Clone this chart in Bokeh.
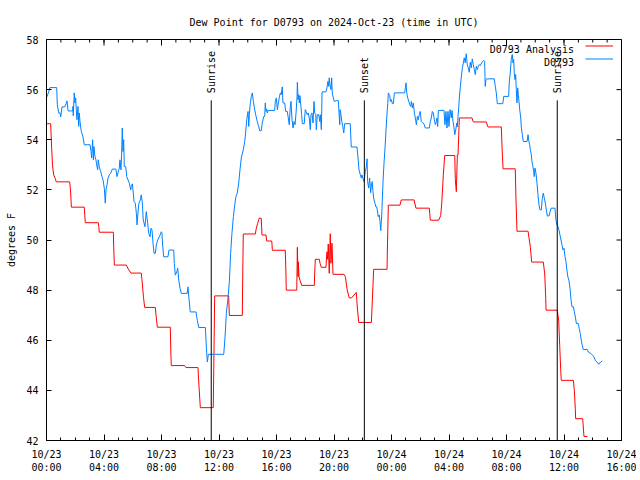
import math
from bokeh.plotting import figure
from bokeh.models import (Range1d, FixedTicker, LinearAxis, Legend, LegendItem,
                          Label, ColumnDataSource)
from bokeh.core.properties import value
from bokeh.embed import file_html
from bokeh.resources import INLINE

FONT = "DejaVu Sans Mono"
TITLE = "Dew Point for D0793 on 2024-Oct-23 (time in UTC)"

# x values: hours since 2024-10-23 00:00 UTC
analysis_hours = [
    0.00, 0.29, 0.36, 0.42, 0.50, 0.61, 0.68, 1.61, 1.67, 1.73,
    2.63, 2.66, 2.70, 3.60, 3.64, 3.67, 4.65, 4.68, 4.72, 5.55,
    5.69, 5.88, 6.59, 6.64, 6.75, 6.83, 7.57, 7.62, 7.71, 8.61,
    8.65, 8.68, 9.61, 9.70, 10.54, 10.57, 10.70, 11.60, 11.70, 12.67,
    12.72, 13.62, 13.65, 13.69, 14.53, 14.57, 14.69, 14.80, 14.94, 14.99,
    15.27, 15.32, 15.67, 15.69, 15.71, 16.61, 16.65, 16.68, 17.41, 17.45,
    17.50, 17.52, 17.57, 17.63, 17.75, 18.63, 18.66, 18.70, 18.98, 19.03,
    19.12, 19.44, 19.51, 19.56, 19.60, 19.67, 19.74, 19.79, 19.86, 19.93,
    20.70, 20.79, 20.92, 21.06, 21.22, 21.55, 21.62, 21.72, 22.60, 22.64,
    22.76, 23.69, 23.71, 23.78, 24.59, 24.68, 25.57, 25.70, 26.63, 26.70,
    27.28, 27.42, 27.49, 27.60, 27.70, 28.40, 28.44, 28.51, 28.58, 28.63,
    28.72, 29.60, 29.69, 30.59, 30.71, 31.64, 31.69, 31.76, 32.61, 32.66,
    32.73, 33.50, 33.66, 33.75, 34.56, 34.66, 34.73, 34.75, 35.53, 35.63,
    35.70, 35.77, 35.81, 36.65, 36.72, 36.79, 36.81, 37.30, 37.39, 37.62,
]
analysis_dewpoint = [
    54.64, 54.64, 53.64, 52.96, 52.60, 52.45, 52.32, 52.32, 52.00, 51.31,
    51.31, 50.99, 50.69, 50.69, 50.53, 50.31, 50.31, 49.64, 49.00, 49.00,
    48.84, 48.68, 48.68, 48.43, 47.70, 47.31, 47.31, 47.00, 46.52, 46.52,
    45.53, 44.99, 44.99, 44.91, 44.91, 44.53, 43.31, 43.31, 47.77, 47.77,
    46.99, 46.99, 48.60, 50.24, 50.24, 50.40, 50.67, 50.87, 50.87, 50.20,
    50.20, 49.96, 49.96, 49.80, 49.59, 49.59, 48.80, 48.00, 48.00, 49.71,
    48.53, 49.13, 48.53, 48.40, 48.19, 48.19, 48.72, 49.23, 49.23, 49.07,
    48.91, 48.91, 49.53, 49.23, 49.84, 48.67, 50.25, 49.07, 49.87, 48.63,
    48.63, 48.53, 48.00, 47.69, 47.69, 47.91, 47.33, 46.71, 46.71, 47.24,
    48.83, 48.83, 49.52, 51.39, 51.39, 51.60, 51.60, 51.27, 51.27, 50.79,
    50.79, 50.97, 51.40, 52.56, 53.37, 53.37, 52.40, 51.93, 53.40, 53.40,
    54.87, 54.87, 54.71, 54.71, 54.51, 54.51, 53.71, 52.84, 52.84, 51.60,
    50.35, 50.35, 49.71, 49.12, 49.12, 48.64, 47.67, 47.20, 47.20, 46.80,
    45.79, 44.83, 44.40, 44.40, 44.00, 43.23, 42.87, 42.87, 42.16, 42.16,
]

obs_hours = [
    0.01, 0.15, 0.24, 0.71, 0.75, 0.85, 0.94, 0.99, 1.08, 1.27,
    1.36, 1.43, 1.50, 1.82, 1.84, 1.86, 1.93, 1.98, 2.03, 2.07,
    2.12, 2.19, 2.24, 2.28, 2.33, 2.42, 2.54, 2.63, 3.03, 3.10,
    3.14, 3.21, 3.26, 3.30, 3.37, 3.44, 3.49, 3.56, 3.60, 3.67,
    3.77, 3.86, 3.93, 4.02, 4.09, 4.14, 4.21, 4.28, 4.37, 4.47,
    4.58, 4.83, 4.90, 4.97, 5.06, 5.11, 5.18, 5.23, 5.27, 5.32,
    5.37, 5.41, 5.51, 5.58, 5.67, 5.76, 5.86, 5.90, 5.97, 6.04,
    6.09, 6.18, 6.25, 6.30, 6.37, 6.43, 6.53, 6.59, 6.66, 6.73,
    6.85, 6.94, 7.04, 7.11, 7.20, 7.27, 7.34, 7.41, 7.48, 7.57,
    7.64, 7.74, 7.85, 7.99, 8.03, 8.08, 8.15, 8.45, 8.52, 8.85,
    8.89, 8.96, 9.06, 9.13, 9.20, 9.29, 9.38, 9.79, 9.84, 9.91,
    10.00, 10.40, 10.49, 10.59, 11.05, 11.12, 11.19, 11.26, 12.33, 12.42,
    12.51, 12.61, 12.72, 12.81, 12.90, 13.00, 13.11, 13.18, 13.27, 13.37,
    13.46, 13.55, 13.69, 13.79, 13.86, 13.93, 14.02, 14.07, 14.11, 14.18,
    14.25, 14.32, 14.39, 14.46, 14.53, 14.60, 14.66, 14.76, 14.83, 14.94,
    15.01, 15.11, 15.18, 15.22, 15.27, 15.32, 15.36, 15.43, 15.87, 15.92,
    15.99, 16.06, 16.13, 16.20, 16.27, 16.33, 16.40, 16.45, 16.57, 16.64,
    16.75, 16.82, 16.89, 16.96, 17.01, 17.08, 17.15, 17.22, 17.29, 17.36,
    17.43, 17.45, 17.50, 17.54, 17.59, 17.63, 17.70, 17.75, 17.80, 17.93,
    18.00, 18.07, 18.14, 18.21, 18.28, 18.35, 18.40, 18.47, 18.54, 18.61,
    18.66, 18.73, 18.77, 18.84, 18.94, 19.01, 19.05, 19.12, 19.17, 19.44,
    19.51, 19.58, 19.63, 19.67, 19.72, 19.79, 19.84, 19.88, 19.95, 20.02,
    20.16, 20.30, 20.35, 20.40, 20.42, 20.49, 20.54, 20.61, 20.68, 20.74,
    21.13, 21.20, 21.60, 21.67, 21.74, 21.83, 21.90, 21.95, 22.02, 22.09,
    22.18, 22.25, 22.30, 22.34, 22.41, 22.48, 22.55, 22.60, 22.66, 22.71,
    22.78, 22.85, 22.90, 22.97, 23.01, 23.08, 23.15, 23.20, 23.25, 23.32,
    23.36, 23.41, 23.48, 23.55, 23.62, 23.69, 23.74, 23.78, 23.88, 23.92,
    23.99, 24.06, 24.13, 24.20, 24.92, 24.96, 25.01, 25.06, 25.13, 25.20,
    25.27, 25.34, 25.38, 25.45, 25.52, 25.59, 25.66, 25.73, 25.80, 25.86,
    25.93, 26.00, 26.07, 26.14, 26.21, 26.28, 26.35, 26.63, 26.70, 26.77,
    26.84, 26.91, 26.98, 27.05, 27.12, 27.17, 27.21, 27.26, 27.65, 27.72,
    27.79, 27.86, 27.93, 28.00, 28.07, 28.16, 28.21, 28.28, 28.35, 28.40,
    28.47, 28.54, 28.58, 28.63, 28.68, 28.72, 28.79, 28.86, 28.93, 28.99,
    29.06, 29.13, 29.20, 29.27, 29.34, 29.41, 29.48, 29.55, 29.62, 29.69,
    29.76, 29.83, 29.90, 29.97, 30.04, 30.11, 30.18, 30.27, 30.41, 30.48,
    30.52, 30.57, 30.64, 31.15, 31.22, 31.29, 31.36, 31.74, 31.81, 32.15,
    32.19, 32.26, 32.33, 32.40, 32.45, 32.50, 32.54, 32.59, 32.64, 32.68,
    32.73, 32.78, 32.82, 32.87, 32.92, 32.99, 33.03, 33.10, 33.17, 33.43,
    33.50, 33.54, 33.61, 33.66, 33.73, 33.77, 33.84, 33.89, 33.93, 33.98,
    34.05, 34.12, 34.19, 34.26, 34.33, 34.42, 34.49, 34.56, 34.63, 34.70,
    34.77, 34.84, 34.96, 35.03, 35.10, 35.37, 35.44, 35.51, 35.58, 35.65,
    35.72, 35.79, 35.86, 35.93, 36.00, 36.07, 36.14, 36.20, 36.27, 36.34,
    36.42, 36.49, 36.56, 36.65, 36.72, 36.79, 36.86, 36.99, 37.06, 37.13,
    37.20, 37.27, 37.34, 37.62, 37.69, 37.86, 38.00, 38.09, 38.18, 38.30,
    38.41, 38.55, 38.66,
]
obs_dewpoint = [
    55.69, 55.90, 56.08, 56.08, 55.40, 55.07, 55.07, 54.91, 55.31, 55.31,
    55.44, 55.55, 55.15, 55.15, 55.33, 54.96, 55.87, 55.47, 55.67, 55.20,
    54.80, 55.33, 54.53, 55.07, 54.73, 54.33, 54.11, 53.80, 53.80, 53.53,
    53.27, 54.00, 53.20, 53.73, 53.33, 53.20, 53.00, 52.80, 53.20, 52.93,
    52.73, 52.53, 52.40, 52.07, 51.47, 52.00, 52.20, 52.47, 52.60, 52.67,
    52.83, 52.83, 52.53, 52.67, 52.87, 53.20, 52.80, 53.47, 54.47, 53.53,
    54.00, 52.93, 52.93, 52.53, 52.40, 52.27, 52.00, 52.13, 52.24, 51.87,
    51.53, 51.47, 51.07, 50.60, 51.13, 51.47, 51.60, 51.80, 51.53, 50.80,
    50.53, 51.13, 50.67, 50.27, 50.13, 50.47, 50.40, 49.87, 49.47, 49.47,
    49.80, 50.00, 50.13, 50.33, 50.27, 49.80, 49.33, 49.33, 49.60, 49.60,
    49.07, 48.60, 48.73, 48.87, 48.40, 48.07, 47.87, 47.87, 48.13, 47.67,
    47.13, 47.13, 46.80, 46.51, 46.51, 45.73, 45.13, 45.44, 45.44, 46.13,
    47.07, 47.60, 48.33, 49.47, 50.27, 50.93, 51.47, 51.73, 51.87, 52.27,
    52.80, 53.27, 53.60, 53.93, 54.33, 54.80, 55.13, 54.53, 55.00, 55.47,
    55.73, 55.87, 55.53, 55.27, 55.07, 54.87, 54.73, 54.53, 54.36, 54.36,
    54.67, 54.93, 54.93, 55.47, 55.13, 55.23, 55.07, 55.17, 55.17, 55.53,
    55.67, 55.20, 55.47, 55.71, 55.87, 55.80, 56.11, 55.47, 55.47, 55.13,
    55.13, 54.87, 54.60, 55.33, 55.53, 54.80, 54.47, 54.73, 54.60, 55.07,
    55.73, 56.29, 55.60, 55.80, 55.47, 55.76, 55.33, 55.00, 54.64, 54.64,
    55.20, 55.13, 55.00, 55.07, 54.87, 54.40, 55.00, 55.07, 54.67, 55.53,
    55.07, 55.00, 54.40, 55.00, 55.00, 54.73, 55.00, 54.40, 55.91, 55.91,
    56.07, 56.33, 56.13, 56.47, 56.20, 56.00, 56.47, 55.87, 55.67, 55.53,
    55.56, 55.56, 55.07, 54.60, 55.20, 55.00, 54.73, 54.53, 54.27, 54.64,
    54.64, 53.71, 53.71, 53.27, 52.80, 52.60, 52.47, 52.60, 52.44, 52.33,
    52.73, 52.93, 53.24, 52.33, 52.07, 52.47, 51.89, 52.20, 52.33, 51.93,
    51.60, 51.47, 51.33, 51.33, 51.20, 50.93, 51.00, 50.73, 50.37, 51.00,
    51.60, 52.33, 53.07, 53.67, 54.40, 55.07, 55.44, 55.87, 55.76, 55.53,
    55.60, 55.44, 55.44, 55.87, 55.87, 56.07, 56.27, 55.87, 55.67, 55.53,
    55.40, 55.33, 55.53, 55.27, 55.47, 55.07, 54.87, 54.60, 54.93, 54.80,
    55.00, 55.13, 54.73, 54.69, 54.67, 54.60, 54.47, 54.47, 54.73, 54.87,
    55.13, 55.07, 54.80, 54.60, 54.73, 54.87, 54.53, 55.17, 55.17, 54.60,
    55.13, 54.47, 55.13, 54.53, 55.20, 54.87, 55.17, 54.73, 54.47, 54.20,
    54.40, 54.67, 54.51, 54.93, 55.33, 55.67, 56.13, 56.53, 56.87, 57.03,
    57.27, 57.07, 57.43, 57.00, 56.87, 56.69, 57.09, 56.87, 57.23, 57.00,
    56.80, 56.60, 56.93, 56.80, 56.93, 57.00, 56.96, 57.07, 57.17, 57.13,
    56.13, 56.40, 56.43, 56.43, 56.13, 55.87, 55.44, 55.44, 55.73, 55.73,
    56.27, 56.67, 57.20, 57.40, 57.07, 57.20, 56.67, 56.40, 56.60, 56.00,
    55.47, 56.07, 55.80, 55.53, 55.20, 54.87, 54.51, 54.20, 53.93, 53.93,
    54.20, 54.00, 53.80, 53.60, 53.40, 53.13, 52.93, 52.73, 52.53, 52.87,
    52.67, 52.27, 51.80, 51.40, 51.20, 51.20, 51.67, 51.87, 51.67, 51.47,
    51.20, 50.96, 50.96, 51.13, 51.27, 51.27, 50.80, 50.60, 50.53, 50.40,
    50.20, 50.00, 49.80, 49.60, 49.67, 49.33, 49.13, 48.80, 48.53, 48.40,
    48.07, 47.60, 47.33, 47.33, 47.13, 46.93, 46.67, 46.67, 46.47, 46.27,
    46.00, 45.80, 45.63, 45.63, 45.53, 45.47, 45.40, 45.33, 45.20, 45.13,
    45.04, 45.13, 45.17,
]

series_names = ["D0793 Analysis", "D0793"]
series_colors = ["#ff0000", "#0080ff"]

event_names = ["Sunrise", "Sunset", "Sunrise"]
event_hours = [11.46, 22.11, 35.53]

x_tick_hours = [0, 4, 8, 12, 16, 20, 24, 28, 32, 36, 40]
x_tick_labels = ["10/23\n00:00", "10/23\n04:00", "10/23\n08:00", "10/23\n12:00",
                 "10/23\n16:00", "10/23\n20:00", "10/24\n00:00", "10/24\n04:00",
                 "10/24\n08:00", "10/24\n12:00", "10/24\n16:00"]
x_minor_hours = list(range(0, 41))
y_ticks = [42, 44, 46, 48, 50, 52, 54, 56, 58]

X0, X1, Y0, Y1 = 0, 40, 42, 58

p = figure(width=636, height=476, output_backend="svg", toolbar_location=None,
           x_range=Range1d(X0, X1), y_range=Range1d(Y0, Y1),
           x_axis_type=None, y_axis_type=None, title=TITLE,
           min_border_left=46, min_border_right=15, min_border_top=39,
           min_border_bottom=36)
p.background_fill_color = "white"
p.border_fill_color = "white"
p.outline_line_color = "black"
p.outline_line_width = 1
p.title.text_font = FONT
p.title.text_font_size = "10px"
p.title.text_font_style = "normal"
p.title.align = "center"
p.title.text_color = "black"
p.title.standoff = 23


def style_axis(ax):
    ax.axis_line_color = "black"
    ax.major_tick_line_color = "black"
    ax.minor_tick_line_color = "black"
    ax.major_tick_in = 5
    ax.major_tick_out = 0
    ax.minor_tick_in = 3
    ax.minor_tick_out = 0
    ax.major_label_text_font = FONT
    ax.major_label_text_color = "black"
    ax.major_label_text_font_size = "10px"
    ax.major_label_standoff = 8


x_overrides = {h: lab for h, lab in zip(x_tick_hours, x_tick_labels)}
xb = LinearAxis(ticker=FixedTicker(ticks=x_tick_hours, minor_ticks=x_minor_hours),
                major_label_overrides=x_overrides)
style_axis(xb)
xb.major_tick_in = 6
p.add_layout(xb, "below")

yl = LinearAxis(ticker=FixedTicker(ticks=y_ticks, minor_ticks=[]),
                axis_label="degrees F")
style_axis(yl)
yl.axis_label_text_font = FONT
yl.axis_label_text_font_size = "10px"
yl.axis_label_text_font_style = "normal"
yl.axis_label_text_color = "black"
yl.axis_label_standoff = 6
p.add_layout(yl, "left")

# mirrored inward ticks on the top and right borders (lengths in px -> data)
tick_major_y = 6 / 25.06
tick_minor_y = 3 / 25.06
tick_major_x = 5 / 14.375
p.segment(x0=x_tick_hours, y0=Y1, x1=x_tick_hours, y1=Y1 - tick_major_y,
          color="black", line_width=1)
p.segment(x0=x_minor_hours, y0=Y1, x1=x_minor_hours, y1=Y1 - tick_minor_y,
          color="black", line_width=1)
p.segment(x0=X1, y0=y_ticks, x1=X1 - tick_major_x, y1=y_ticks,
          color="black", line_width=1)

r_an = p.line(analysis_hours, analysis_dewpoint, color=series_colors[0], line_width=1)
r_obs = p.line(obs_hours, obs_dewpoint, color=series_colors[1], line_width=1)

ev = ColumnDataSource(dict(x=event_hours, name=event_names))
p.segment(x0="x", y0=Y0, x1="x", y1=55.57, source=ev, color="black", line_width=1)
p.text(x="x", y=55.86, text="name", source=ev, angle=math.pi / 2,
       text_font=value(FONT), text_font_size=value("10px"),
       text_align="left", text_baseline="middle", text_color="black")

legend = Legend(items=[LegendItem(label=" ", renderers=[r_an]),
                       LegendItem(label=" ", renderers=[r_obs])],
                location="top_right", orientation="vertical", margin=0, padding=3,
                spacing=0, glyph_width=28, glyph_height=13, label_standoff=0,
                label_width=8, label_height=13, label_text_font_size="10px",
                border_line_color=None, background_fill_alpha=0)
p.add_layout(legend)

for name, yv in zip(series_names, [57.61, 57.09]):
    p.add_layout(Label(x=36.70, y=yv, text=name, text_align="right",
                       text_baseline="middle", text_font=FONT,
                       text_font_size="10px", text_color="black"))

open("out.html", "w").write(file_html(p, INLINE))
